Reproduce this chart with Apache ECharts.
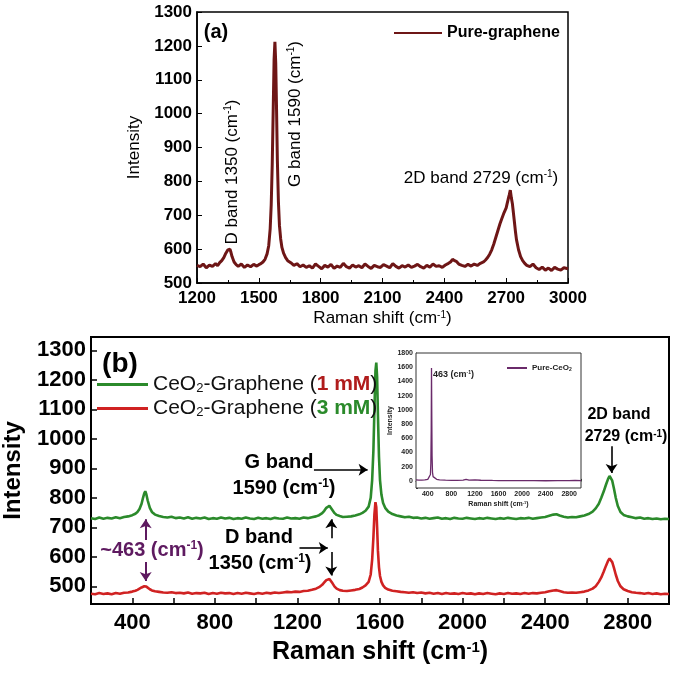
<!DOCTYPE html>
<html>
<head>
<meta charset="utf-8">
<script src="https://cdn.jsdelivr.net/npm/echarts@6/dist/echarts.min.js"></script>
<style>
html,body{margin:0;padding:0;background:#fff;}
#c{width:675px;height:673px;}
</style>
</head>
<body>
<div id="c"></div>
<script>
// ---------- DATA ----------
// Panel (a): Pure graphene Raman spectrum [shift, intensity]
const pureGraphene = [
[1200,552],[1215,548],[1230,556],[1245,545],[1260,553],[1275,549],[1290,557],[1300,551],[1310,560],[1320,566],
[1330,575],[1340,588],[1345,592],[1350,598],[1355,594],[1360,600],[1365,590],[1370,578],[1380,562],[1390,554],
[1400,549],[1415,556],[1430,546],[1445,553],[1460,548],[1475,555],[1490,550],[1500,554],[1510,557],[1520,562],
[1530,570],[1540,586],[1548,610],[1555,660],[1560,730],[1565,850],[1570,1020],[1574,1160],[1578,1212],[1582,1150],
[1586,1010],[1590,860],[1595,740],[1600,670],[1606,630],[1612,605],[1620,588],[1630,575],[1640,566],[1655,560],
[1670,552],[1685,557],[1700,548],[1715,553],[1730,546],[1745,551],[1760,544],[1775,556],[1790,549],[1805,542],
[1820,552],[1835,547],[1850,555],[1865,543],[1880,550],[1895,546],[1910,558],[1925,548],[1940,544],[1955,553],
[1970,547],[1985,551],[2000,545],[2015,556],[2030,549],[2045,543],[2060,552],[2075,548],[2090,546],[2105,554],
[2120,550],[2135,545],[2150,557],[2165,549],[2180,544],[2195,551],[2210,547],[2225,553],[2240,546],[2255,550],
[2270,555],[2285,548],[2300,544],[2315,552],[2330,547],[2345,556],[2360,549],[2375,551],[2390,546],[2405,553],
[2420,558],[2430,562],[2440,570],[2450,566],[2460,563],[2470,556],[2485,552],[2500,549],[2515,555],[2530,550],
[2545,556],[2560,552],[2575,558],[2590,562],[2600,568],[2610,575],[2620,585],[2630,598],[2640,615],[2650,635],
[2660,655],[2670,675],[2680,692],[2690,708],[2700,722],[2705,735],[2710,748],[2715,760],[2720,774],[2725,752],
[2730,735],[2735,708],[2740,680],[2745,652],[2750,628],[2760,598],[2770,578],[2780,566],[2790,558],[2800,552],
[2815,548],[2830,556],[2845,545],[2860,540],[2875,547],[2890,538],[2905,544],[2920,537],[2935,546],[2950,541],
[2965,538],[2980,545],[3000,542]
];

// Panel (b): CeO2-Graphene (1 mM) - upper green trace
const ceoGraphene1mM = [
[200,731],[220,728],[240,733],[260,729],[280,732],[300,730],[320,734],[340,731],[360,735],[380,737],
[400,741],[415,746],[425,752],[435,762],[445,780],[452,800],[458,815],[463,822],[468,812],[475,790],
[485,766],[495,752],[510,743],[530,738],[550,735],[570,733],[590,736],[610,731],[630,733],[650,730],
[670,734],[690,729],[710,732],[730,730],[750,733],[770,728],[790,731],[810,729],[830,733],[850,730],
[870,732],[890,728],[910,731],[930,729],[950,733],[970,730],[990,728],[1010,732],[1030,729],[1050,731],
[1070,728],[1090,732],[1110,730],[1130,729],[1150,733],[1170,730],[1190,731],[1210,729],[1230,733],[1250,731],
[1270,734],[1290,737],[1305,741],[1320,748],[1330,756],[1340,766],[1348,772],[1355,773],[1362,768],[1370,758],
[1380,748],[1390,742],[1405,738],[1420,735],[1440,736],[1460,737],[1480,740],[1500,744],[1515,749],[1530,756],
[1545,770],[1555,800],[1562,860],[1568,960],[1573,1100],[1578,1230],[1582,1258],[1586,1210],[1590,1080],[1595,940],
[1600,860],[1607,810],[1615,782],[1625,766],[1640,753],[1660,745],[1680,740],[1700,737],[1720,734],[1740,736],
[1760,732],[1780,733],[1800,730],[1820,732],[1840,729],[1860,731],[1880,733],[1900,729],[1920,731],[1940,728],
[1960,732],[1980,730],[2000,729],[2020,732],[2040,730],[2060,728],[2080,731],[2100,729],[2120,732],[2140,730],
[2160,728],[2180,731],[2200,729],[2220,732],[2240,730],[2260,728],[2280,731],[2300,730],[2320,732],[2340,729],
[2360,731],[2380,733],[2400,735],[2420,739],[2440,743],[2455,744],[2470,740],[2490,736],[2510,733],[2530,735],
[2550,734],[2570,737],[2590,740],[2610,745],[2630,753],[2645,764],[2660,780],[2672,800],[2684,822],[2695,845],
[2705,864],[2712,874],[2718,872],[2725,858],[2733,832],[2742,800],[2752,772],[2765,752],[2780,742],[2800,737],
[2820,734],[2840,731],[2860,733],[2880,729],[2900,731],[2920,728],[2940,730],[2960,727],[2980,729],[3000,728]
];

// Panel (b): CeO2-Graphene (3 mM) - lower red trace
const ceoGraphene3mM = [
[200,475],[220,473],[240,477],[260,474],[280,476],[300,473],[320,477],[340,475],[360,478],[380,479],
[400,482],[415,485],[425,488],[435,492],[445,496],[452,499],[458,500],[463,501],[468,499],[475,495],
[485,490],[495,486],[510,483],[530,481],[550,479],[570,478],[590,480],[610,477],[630,478],[650,476],
[670,479],[690,475],[710,477],[730,476],[750,478],[770,474],[790,477],[810,475],[830,478],[850,476],
[870,477],[890,474],[910,477],[930,475],[950,478],[970,476],[990,474],[1010,477],[1030,475],[1050,478],
[1070,476],[1090,479],[1110,477],[1130,479],[1150,481],[1170,480],[1190,482],[1210,481],[1230,484],[1250,485],
[1270,488],[1290,492],[1305,497],[1320,505],[1330,513],[1340,521],[1348,526],[1355,525],[1362,520],[1370,510],
[1380,499],[1390,492],[1405,487],[1420,485],[1440,484],[1460,486],[1480,488],[1500,491],[1515,496],[1530,503],
[1545,515],[1555,540],[1562,590],[1568,665],[1573,745],[1578,785],[1582,768],[1586,700],[1590,620],[1595,565],
[1600,535],[1607,515],[1615,503],[1625,495],[1640,489],[1660,485],[1680,483],[1700,481],[1720,480],[1740,478],
[1760,480],[1780,477],[1800,479],[1820,476],[1840,478],[1860,475],[1880,477],[1900,474],[1920,477],[1940,475],
[1960,476],[1980,474],[2000,477],[2020,475],[2040,476],[2060,473],[2080,476],[2100,474],[2120,477],[2140,475],
[2160,473],[2180,476],[2200,474],[2220,477],[2240,475],[2260,476],[2280,474],[2300,477],[2320,475],[2340,477],
[2360,476],[2380,478],[2400,480],[2420,483],[2440,486],[2455,487],[2470,484],[2490,480],[2510,478],[2530,479],
[2550,478],[2570,480],[2590,482],[2610,486],[2630,492],[2645,500],[2660,515],[2672,530],[2684,550],[2695,570],
[2705,587],[2712,594],[2718,592],[2725,582],[2733,563],[2742,540],[2752,518],[2765,500],[2780,490],[2800,484],
[2820,480],[2840,478],[2860,477],[2880,475],[2900,477],[2920,474],[2940,476],[2960,473],[2980,475],[3000,474]
];

// Inset: Pure CeO2
const pureCeO2 = [
[200,15],[250,12],[300,10],[350,14],[400,22],[430,40],[445,90],[452,250],[458,700],[463,1590],
[468,900],[473,350],[480,120],[490,60],[510,35],[550,22],[600,15],[700,10],[800,8],[900,7],
[1000,12],[1050,22],[1100,12],[1200,15],[1300,9],[1400,8],[1500,6],[1600,5],[1800,4],[2000,3],
[2200,3],[2400,2],[2600,3],[2800,4],[2900,8],[3000,5]
];

const aXTicks = [1200, 3000, 300];
const bXLabels = [400, 800, 1200, 1600, 2000, 2400, 2800];
const bYLabels = [500, 600, 700, 800, 900, 1000, 1100, 1200, 1300];
const insetYLabels = [0, 200, 400, 600, 800, 1000, 1200, 1400, 1600, 1800];

// ---------- STYLE ----------
const FONT = "'Liberation Sans', Arial, Helvetica, sans-serif";
const C_A = '#6e1616';
const C_G = '#2b8a2b';
const C_R = '#d02222';
const C_P = '#6a2a6a';
const C_PT = '#5e1a60';

function plain(v) { return String(v); }
function supRich(size, weight, color) {
  return {
    t: {fontSize: size, fontWeight: weight, fontFamily: FONT, color: color},
    s: {fontSize: Math.round(size * 0.6), fontWeight: weight, fontFamily: FONT, color: color, verticalAlign: 'top'}
  };
}
function gRich(size, weight, color) {
  return {
    t: {fontSize: size, fontWeight: weight, fontFamily: FONT, fill: color},
    s: {fontSize: Math.round(size * 0.6), fontWeight: weight, fontFamily: FONT, fill: color, verticalAlign: 'top'}
  };
}
function gtext(x, y, text, size, weight, color, rot, align) {
  return {
    type: 'text', x: x, y: y, rotation: rot || 0, z: 100,
    style: {
      text: text, align: align || 'center', verticalAlign: 'middle',
      rich: gRich(size, weight, color),
      font: weight + ' ' + size + 'px ' + FONT, fill: color
    }
  };
}

const chart = echarts.init(document.getElementById('c'), null, {renderer: 'canvas'});

const option = {
  animation: false,
  backgroundColor: '#fff',
  grid: [
    {left: 197, top: 12, width: 371, height: 271, outerBoundsMode: 'none', containLabel: false,
     show: true, borderColor: '#000', borderWidth: 1.5, backgroundColor: 'transparent'},
    {left: 91, top: 337, width: 578, height: 267, outerBoundsMode: 'none', containLabel: false,
     show: true, borderColor: '#000', borderWidth: 2, backgroundColor: 'transparent'},
    {left: 416, top: 353, width: 165, height: 135, outerBoundsMode: 'none', containLabel: false,
     show: true, borderColor: '#333', borderWidth: 1, backgroundColor: '#fff', z: 5}
  ],
  xAxis: [
    {
      gridIndex: 0, type: 'value', min: aXTicks[0], max: aXTicks[1], interval: aXTicks[2],
      axisLine: {show: true, lineStyle: {color: '#000', width: 1.5}},
      axisTick: {inside: true, length: 5, lineStyle: {color: '#000'}},
      minorTick: {show: true, splitNumber: 2, length: 3, lineStyle: {color: '#000'}},
      splitLine: {show: false},
      axisLabel: {color: '#000', fontSize: 17, fontWeight: 'bold', fontFamily: FONT, margin: 7, formatter: plain},
      name: '{t|Raman shift (cm}{s|-1}{t|)}', nameLocation: 'middle', nameGap: 27,
      nameTextStyle: {rich: supRich(17, 'normal', '#000')}
    },
    {
      gridIndex: 1, type: 'value', min: 200, max: 3000, interval: 200,
      axisLine: {show: true, lineStyle: {color: '#000', width: 2}},
      axisTick: {inside: true, length: 6, lineStyle: {color: '#000', width: 1.5}},
      splitLine: {show: false},
      axisLabel: {
        color: '#000', fontSize: 22, fontWeight: 'bold', fontFamily: FONT, margin: 8,
        formatter: function (v) { return bXLabels.indexOf(v) >= 0 ? String(v) : ''; }
      },
      name: '{t|Raman shift (cm}{s|-1}{t|)}', nameLocation: 'middle', nameGap: 36,
      nameTextStyle: {rich: supRich(25, 'bold', '#000')}
    },
    {
      gridIndex: 2, type: 'value', min: 200, max: 3000, interval: 200,
      axisLine: {show: true, lineStyle: {color: '#333', width: 1}},
      axisTick: {inside: true, length: 2, lineStyle: {color: '#333'}},
      splitLine: {show: false},
      axisLabel: {
        color: '#222', fontSize: 7, fontWeight: 'bold', fontFamily: FONT, margin: 3,
        formatter: function (v) { return bXLabels.indexOf(v) >= 0 ? String(v) : ''; }
      },
      name: '{t|Raman shift (cm}{s|-1}{t|)}', nameLocation: 'middle', nameGap: 13,
      nameTextStyle: {rich: supRich(7, 'bold', '#222')}
    }
  ],
  yAxis: [
    {
      gridIndex: 0, type: 'value', min: 500, max: 1300, interval: 100,
      axisLine: {show: true, lineStyle: {color: '#000', width: 1.5}},
      axisTick: {inside: true, length: 5, lineStyle: {color: '#000'}},
      splitLine: {show: false},
      axisLabel: {color: '#000', fontSize: 17, fontWeight: 'bold', fontFamily: FONT, margin: 5, formatter: plain},
      name: 'Intensity', nameLocation: 'middle', nameGap: 54,
      nameTextStyle: {color: '#000', fontSize: 17, fontFamily: FONT}
    },
    {
      gridIndex: 1, type: 'value', min: 440, max: 1345,
      axisLine: {show: true, lineStyle: {color: '#000', width: 2}},
      axisTick: {inside: true, length: 6, customValues: bYLabels, lineStyle: {color: '#000', width: 1.5}},
      splitLine: {show: false},
      axisLabel: {color: '#000', fontSize: 22, fontWeight: 'bold', fontFamily: FONT, margin: 5,
                  customValues: bYLabels, formatter: plain},
      name: 'Intensity', nameLocation: 'middle', nameGap: 66,
      nameTextStyle: {color: '#000', fontSize: 24, fontWeight: 'bold', fontFamily: FONT}
    },
    {
      gridIndex: 2, type: 'value', min: -100, max: 1800, interval: 100,
      axisLine: {show: true, lineStyle: {color: '#333', width: 1}},
      axisTick: {inside: true, length: 2, lineStyle: {color: '#333'}},
      splitLine: {show: false},
      axisLabel: {
        color: '#222', fontSize: 7, fontWeight: 'bold', fontFamily: FONT, margin: 3,
        formatter: function (v) { return insetYLabels.indexOf(v) >= 0 ? String(v) : ''; }
      },
      name: 'Intensity', nameLocation: 'middle', nameGap: 20,
      nameTextStyle: {color: '#222', fontSize: 7, fontWeight: 'bold', fontFamily: FONT}
    }
  ],
  legend: [
    {
      data: ['Pure-graphene'], left: 389, top: 20, itemWidth: 48, itemHeight: 2, icon: 'rect',
      textStyle: {color: '#000', fontSize: 16, fontWeight: 'bold', fontFamily: FONT}
    },
    {
      data: ['CeO2-Graphene (1 mM)', 'CeO2-Graphene (3 mM)'], orient: 'vertical',
      left: 92, top: 369, itemWidth: 51, itemHeight: 3, icon: 'rect', itemGap: 3,
      formatter: function (n) {
        return n.indexOf('1 mM') >= 0
          ? '{t|CeO}{sub|2}{t|-Graphene (}{r|1 mM}{t|)}'
          : '{t|CeO}{sub|2}{t|-Graphene (}{g|3 mM}{t|)}';
      },
      textStyle: {
        rich: {
          t: {fontSize: 21, fontFamily: FONT, color: '#111'},
          sub: {fontSize: 13, fontFamily: FONT, color: '#111', verticalAlign: 'bottom'},
          r: {fontSize: 21, fontFamily: FONT, color: '#b01c1c', fontWeight: 'bold'},
          g: {fontSize: 21, fontFamily: FONT, color: '#2a8a2a', fontWeight: 'bold'}
        }
      }
    },
    {
      data: ['Pure-CeO2'], left: 502, top: 359, itemWidth: 20, itemHeight: 2, icon: 'rect', z: 10,
      formatter: function () { return '{t|Pure-CeO}{sub|2}'; },
      textStyle: {
        rich: {
          t: {fontSize: 8, fontWeight: 'bold', fontFamily: FONT, color: '#222'},
          sub: {fontSize: 5, fontWeight: 'bold', fontFamily: FONT, color: '#222', verticalAlign: 'bottom'}
        }
      }
    }
  ],
  series: [
    {
      name: 'Pure-graphene', type: 'line', xAxisIndex: 0, yAxisIndex: 0, data: pureGraphene,
      showSymbol: false, symbol: 'none', color: C_A, lineStyle: {color: C_A, width: 3}
    },
    {
      name: 'CeO2-Graphene (1 mM)', type: 'line', xAxisIndex: 1, yAxisIndex: 1, data: ceoGraphene1mM,
      showSymbol: false, symbol: 'none', color: C_G, lineStyle: {color: C_G, width: 2.6},
      markLine: {
        silent: true, symbol: ['none', 'arrow'], symbolSize: 9,
        label: {show: false},
        lineStyle: {color: '#000', width: 1.6, type: 'solid'},
        data: [
          [{coord: [1280, 895]}, {coord: [1540, 895]}],
          [{coord: [1210, 630]}, {coord: [1347, 630]}],
          [{coord: [1364, 663]}, {coord: [1364, 727]}],
          [{coord: [1364, 616]}, {coord: [1364, 537]}],
          [{coord: [2722, 975]}, {coord: [2722, 884]}],
          [{coord: [465, 657], lineStyle: {color: C_PT, width: 2}}, {coord: [465, 727]}],
          [{coord: [465, 582], lineStyle: {color: C_PT, width: 2}}, {coord: [465, 518]}]
        ]
      }
    },
    {
      name: 'CeO2-Graphene (3 mM)', type: 'line', xAxisIndex: 1, yAxisIndex: 1, data: ceoGraphene3mM,
      showSymbol: false, symbol: 'none', color: C_R, lineStyle: {color: C_R, width: 2.6}
    },
    {
      name: 'Pure-CeO2', type: 'line', xAxisIndex: 2, yAxisIndex: 2, data: pureCeO2, z: 10,
      showSymbol: false, symbol: 'none', color: C_P, lineStyle: {color: C_P, width: 1.3}
    }
  ],
  graphic: [
    gtext(216, 32, '{t|(a)}', 20, 'bold', '#000'),
    gtext(232, 172, '{t|D band 1350 (cm}{s|-1}{t|)}', 17, 'normal', '#000', Math.PI / 2),
    gtext(295, 114, '{t|G band 1590 (cm}{s|-1}{t|)}', 17, 'normal', '#000', Math.PI / 2),
    gtext(481, 178, '{t|2D band 2729 (cm}{s|-1}{t|)}', 17, 'normal', '#000'),
    gtext(120, 364, '{t|(b)}', 28, 'bold', '#000'),
    gtext(279, 462, '{t|G band}', 20, 'bold', '#000'),
    gtext(284, 488, '{t|1590 (cm}{s|-1}{t|)}', 20, 'bold', '#000'),
    gtext(259, 537, '{t|D band}', 20, 'bold', '#000'),
    gtext(260, 563, '{t|1350 (cm}{s|-1}{t|)}', 20, 'bold', '#000'),
    gtext(152, 550, '{t|~463 (cm}{s|-1}{t|)}', 20, 'bold', C_PT),
    gtext(619, 415, '{t|2D band}', 16, 'bold', '#000'),
    gtext(626, 437, '{t|2729 (cm}{s|-1}{t|)}', 16, 'bold', '#000'),
    gtext(433, 375, '{t|463 (cm}{s|-1}{t|)}', 9, 'bold', '#222', 0, 'left')
  ]
};

chart.setOption(option);
</script>
</body>
</html>
